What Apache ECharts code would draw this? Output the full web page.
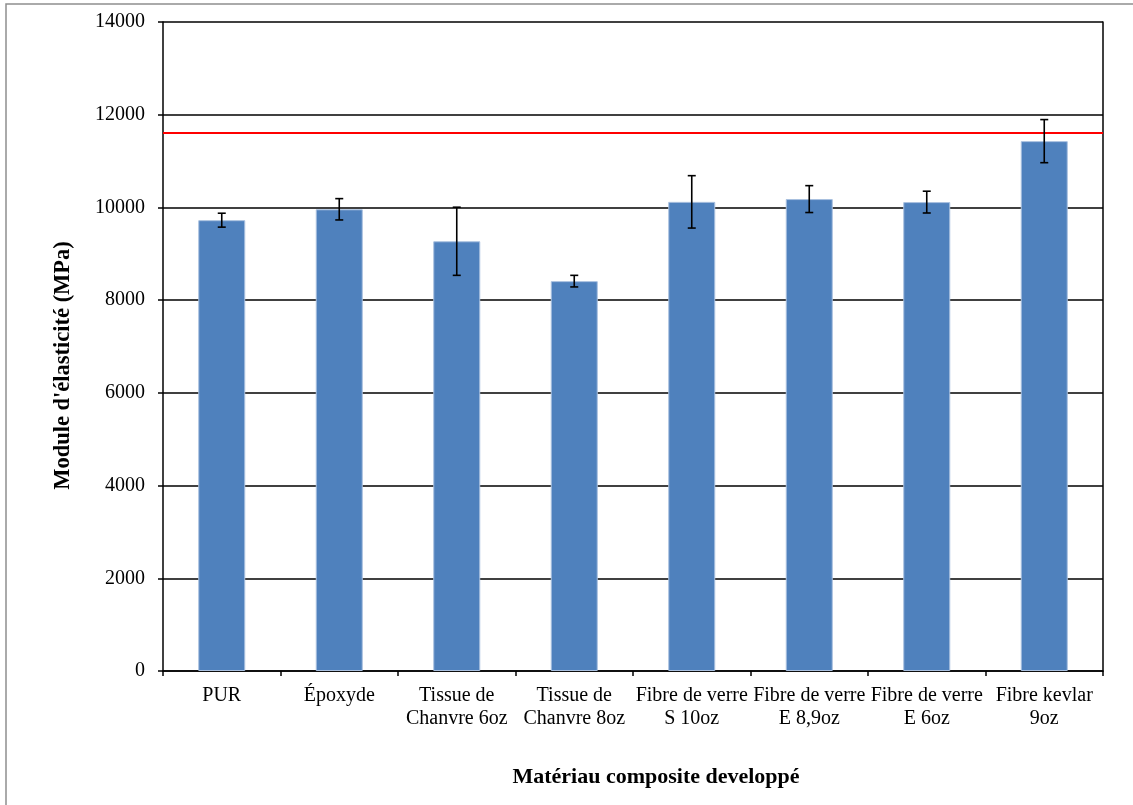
<!DOCTYPE html>
<html>
<head>
<meta charset="utf-8">
<script src="https://cdn.jsdelivr.net/npm/echarts@6/dist/echarts.min.js"></script>
<style>
  html, body { margin: 0; padding: 0; background: #fff; }
  #chart { width: 1133px; height: 805px; }
</style>
</head>
<body>
<div id="chart"></div>
<script>
// Elastic modulus per composite material (MPa)
const categories = [
  'PUR',
  'Époxyde',
  'Tissue de\nChanvre 6oz',
  'Tissue de\nChanvre 8oz',
  'Fibre de verre\nS 10oz',
  'Fibre de verre\nE 8,9oz',
  'Fibre de verre\nE 6oz',
  'Fibre kevlar\n9oz'
];
const modulus = [9725, 9960, 9270, 8410, 10120, 10180, 10115, 11430];
const stdDev = [150, 230, 735, 125, 565, 290, 235, 465];
const referenceModulus = 11620;
const yTicks = { min: 0, max: 14000, interval: 2000 };

const FONT = '"Liberation Serif", "Times New Roman", serif';

const errorData = modulus.map((v, i) => [i, v - stdDev[i], v + stdDev[i]]);

const chart = echarts.init(document.getElementById('chart'), null, { renderer: 'canvas' });

chart.setOption({
  backgroundColor: '#ffffff',
  animation: false,
  grid: { left: 163, right: 30, top: 22, bottom: 134, containLabel: false, show: false },
  graphic: [
    {
      type: 'rect',
      shape: { x: 6, y: 4, width: 1300, height: 900 },
      style: { fill: 'none', stroke: '#8e8e8e', lineWidth: 1.5 },
      silent: true
    }
  ],
  xAxis: {
    type: 'category',
    data: categories,
    name: 'Matériau composite developpé',
    nameLocation: 'middle',
    nameGap: 95,
    nameTextStyle: { fontFamily: FONT, fontSize: 22, fontWeight: 'bold', color: '#000', padding: [0, 0, 0, 46] },
    axisLine: { show: true, lineStyle: { color: '#000', width: 1.5 } },
    axisTick: { show: true, length: 5, lineStyle: { color: '#000', width: 1.5 } },
    axisLabel: { interval: 0, margin: 13, fontFamily: FONT, fontSize: 20, lineHeight: 23, color: '#000' },
    splitLine: { show: false }
  },
  yAxis: [
    {
      type: 'value',
      min: yTicks.min,
      max: yTicks.max,
      interval: yTicks.interval,
      name: "Module d'élasticité (MPa)",
      nameLocation: 'middle',
      nameGap: 88,
      nameTextStyle: { fontFamily: FONT, fontSize: 22.5, fontWeight: 'bold', color: '#000', padding: [0, 38, 0, 0] },
      axisLine: { show: true, lineStyle: { color: '#000', width: 1.5 } },
      axisTick: { show: true, length: 5, lineStyle: { color: '#000', width: 1.5 } },
      axisLabel: { margin: 18, fontFamily: FONT, fontSize: 20, color: '#000', formatter: v => String(v) },
      splitLine: { show: true, lineStyle: { color: '#000', width: 1.5 } }
    },
    {
      // right-hand frame of the plot area
      type: 'value',
      min: yTicks.min,
      max: yTicks.max,
      position: 'right',
      axisLine: { show: true, lineStyle: { color: '#000', width: 1.5 } },
      axisTick: { show: false },
      axisLabel: { show: false },
      splitLine: { show: false }
    }
  ],
  series: [
    {
      name: 'Module',
      type: 'bar',
      data: modulus,
      barWidth: '40%',
      itemStyle: { color: '#4f81bd', borderColor: '#a9c0df', borderWidth: 1 },
      markLine: {
        silent: true,
        symbol: 'none',
        label: { show: false },
        lineStyle: { color: '#ff0000', width: 2, type: 'solid' },
        data: [{ yAxis: referenceModulus }]
      },
      z: 2
    },
    {
      name: 'Écart-type',
      type: 'custom',
      data: errorData,
      z: 5,
      renderItem: function (params, api) {
        const x = api.value(0);
        const lo = api.coord([x, api.value(1)]);
        const hi = api.coord([x, api.value(2)]);
        const half = 4;
        const style = { stroke: '#000', lineWidth: 1.6, fill: 'none' };
        return {
          type: 'group',
          children: [
            { type: 'line', shape: { x1: lo[0], y1: lo[1], x2: hi[0], y2: hi[1] }, style: style },
            { type: 'line', shape: { x1: hi[0] - half, y1: hi[1], x2: hi[0] + half, y2: hi[1] }, style: style },
            { type: 'line', shape: { x1: lo[0] - half, y1: lo[1], x2: lo[0] + half, y2: lo[1] }, style: style }
          ]
        };
      }
    }
  ]
});
</script>
</body>
</html>
